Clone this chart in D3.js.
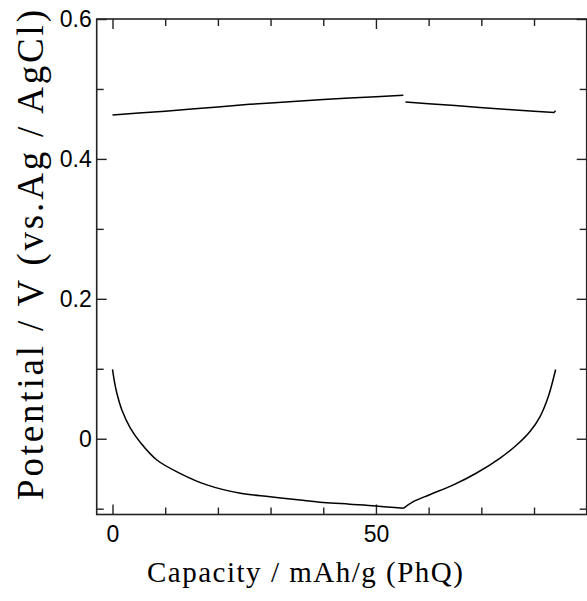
<!DOCTYPE html>
<html>

<head>
    <title>PhQ charge-discharge curve</title>
    <script type="text/javascript" src="https://cdn.jsdelivr.net/npm/d3@7"></script>
    <style type="text/css">
        body { margin: 0; background: #fff; }
    </style>
</head>

<body>
    <svg width="587" height="601"></svg>
</body>

<script type="text/javascript">
    // charge branch (upper plateau), two segments
    let upper1 = [[0, 0.4627], [5, 0.4655], [10, 0.4683], [15, 0.4712], [20, 0.4742], [26, 0.478],
        [30, 0.48], [35, 0.4826], [40, 0.485], [45, 0.487], [50, 0.489], [55.2, 0.491]];
    let upper2 = [[55.6, 0.4814], [60, 0.479], [65, 0.4762], [69.7, 0.4734], [75, 0.4708],
        [80, 0.4683], [83.8, 0.4663], [84.1, 0.469]];
    // discharge branch (lower curve)
    let lower1 = [[0, 0.099], [0.38, 0.081], [0.83, 0.065], [1.78, 0.041], [3.36, 0.0155], [5.25, -0.005],
        [8.42, -0.0304], [12.8, -0.0494], [17.9, -0.066], [24.3, -0.078], [29.9, -0.0829], [35.6, -0.0876],
        [40, -0.091], [45, -0.0935], [50, -0.096], [55.2, -0.0994]];
    let lower2 = [[55.2, -0.0994], [57.1, -0.09], [60.2, -0.08], [64.7, -0.066], [69.1, -0.049],
        [73.5, -0.028], [76.7, -0.009], [79.2, 0.01], [81.1, 0.031], [82.7, 0.06], [84.1, 0.099]];

    let xMajor = [0, 50];
    let xMinor = [10, 20, 30, 40, 60, 70, 80];
    let yMajor = [0, 0.2, 0.4, 0.6];
    let yMinor = [-0.1, 0.1, 0.3, 0.5];

    let sans = "Liberation Sans";
    let serif = "Liberation Serif";

    let svg = d3.select("svg");
    let mLeft = 96.7, mRight = 586.7, mTop = 19, mBottom = 514.5;

    let x = d3.scaleLinear().domain([-3, 90]).range([mLeft, mRight]);
    let y = d3.scaleLinear().domain([-0.1083, 0.6]).range([mBottom, mTop]);

    let fmtY = function(d) { return d === 0 ? "0" : d3.format(".1f")(d); };

    // bottom
    svg.append("g").attr("transform", "translate(0," + mBottom + ")")
        .call(d3.axisBottom(x).tickValues(xMajor).tickSize(-10).tickSizeOuter(0).tickPadding(11).tickFormat(d3.format("d")));
    svg.append("g").attr("transform", "translate(0," + mBottom + ")")
        .call(d3.axisBottom(x).tickValues(xMinor).tickSize(-7).tickSizeOuter(0).tickFormat(""));
    // top
    svg.append("g").attr("transform", "translate(0," + mTop + ")")
        .call(d3.axisTop(x).tickValues(xMajor).tickSize(-10).tickSizeOuter(0).tickFormat(""));
    svg.append("g").attr("transform", "translate(0," + mTop + ")")
        .call(d3.axisTop(x).tickValues(xMinor).tickSize(-7).tickSizeOuter(0).tickFormat(""));
    // left
    svg.append("g").attr("transform", "translate(" + mLeft + ",0)")
        .call(d3.axisLeft(y).tickValues(yMajor).tickSize(-10).tickSizeOuter(0).tickPadding(5).tickFormat(fmtY));
    svg.append("g").attr("transform", "translate(" + mLeft + ",0)")
        .call(d3.axisLeft(y).tickValues(yMinor).tickSize(-7).tickSizeOuter(0).tickFormat(""));
    // right
    svg.append("g").attr("transform", "translate(" + mRight + ",0)")
        .call(d3.axisRight(y).tickValues(yMajor).tickSize(-10).tickSizeOuter(0).tickFormat(""));
    svg.append("g").attr("transform", "translate(" + mRight + ",0)")
        .call(d3.axisRight(y).tickValues(yMinor).tickSize(-7).tickSizeOuter(0).tickFormat(""));

    svg.selectAll(".domain").remove();
    svg.selectAll("g").attr("font-family", sans).attr("font-size", 23);
    svg.selectAll(".tick line").attr("stroke", "#222").attr("stroke-width", 1.4);
    svg.selectAll(".tick text").attr("fill", "#000");

    svg.append("rect")
        .attr("x", mLeft).attr("y", mTop)
        .attr("width", mRight - mLeft).attr("height", mBottom - mTop)
        .attr("fill", "none").attr("stroke", "#222").attr("stroke-width", 1.6);

    let flat = d3.line()
        .x(function(d) { return x(d[0]); })
        .y(function(d) { return y(d[1]); });
    let smooth = d3.line()
        .x(function(d) { return x(d[0]); })
        .y(function(d) { return y(d[1]); })
        .curve(d3.curveCatmullRom.alpha(0.5));

    [[upper1, flat], [upper2, flat], [lower1, smooth], [lower2, smooth]].forEach(function(s) {
        svg.append("path").datum(s[0])
            .attr("d", s[1])
            .attr("fill", "none")
            .attr("stroke", "#000")
            .attr("stroke-width", 1.5);
    });

    // titles: letter spacing widened to the length they take in the original
    svg.append("text")
        .attr("x", 147).attr("y", 582)
        .attr("font-family", serif).attr("font-size", 29).attr("fill", "#000")
        .attr("textLength", 316).attr("lengthAdjust", "spacing")
        .text("Capacity / mAh/g (PhQ)");

    svg.append("text")
        .attr("transform", "translate(43,500) rotate(-90)")
        .attr("font-family", serif).attr("font-size", 37).attr("fill", "#000")
        .attr("textLength", 490).attr("lengthAdjust", "spacing")
        .text("Potential / V (vs.Ag / AgCl)");
</script>

</html>
